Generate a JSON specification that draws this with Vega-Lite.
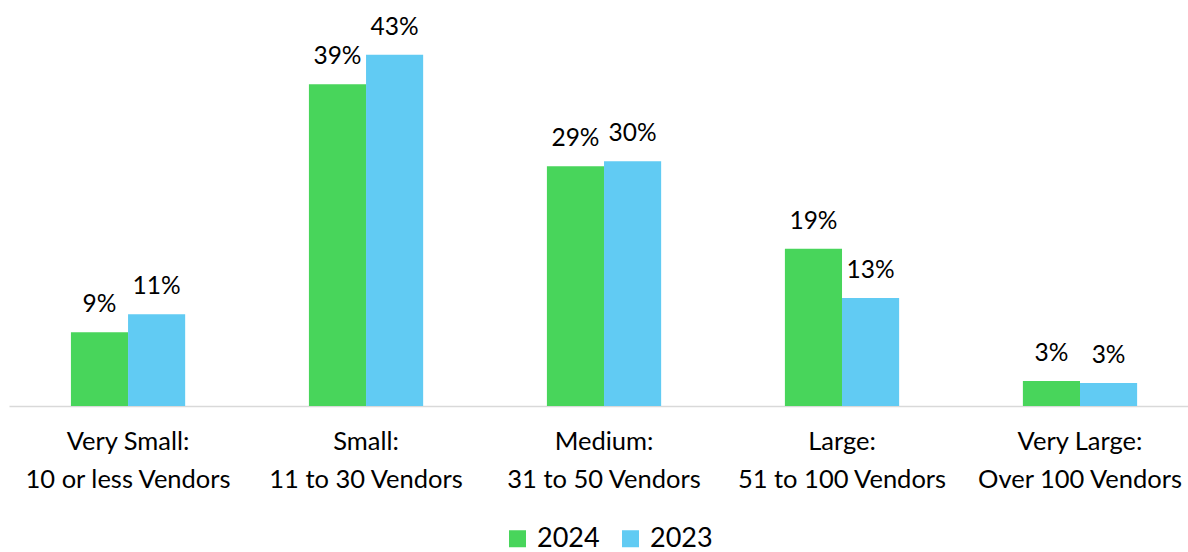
{
  "$schema": "https://vega.github.io/schema/vega-lite/v6.json",
  "width": 1179,
  "height": 406,
  "autosize": "none",
  "padding": {"left": 9, "top": 0, "right": 0, "bottom": 146},
  "background": "white",
  "config": {
    "view": {"stroke": null},
    "font": "Lato",
    "text": {"font": "Lato"}
  },
  "data": {
    "values": [
      {"cat": "Very Small:|10 or less Vendors", "year": "2024", "value": 9.0, "label": "9%"},
      {"cat": "Very Small:|10 or less Vendors", "year": "2023", "value": 11.2, "label": "11%"},
      {"cat": "Small:|11 to 30 Vendors", "year": "2024", "value": 39.3, "label": "39%"},
      {"cat": "Small:|11 to 30 Vendors", "year": "2023", "value": 42.9, "label": "43%"},
      {"cat": "Medium:|31 to 50 Vendors", "year": "2024", "value": 29.3, "label": "29%"},
      {"cat": "Medium:|31 to 50 Vendors", "year": "2023", "value": 29.9, "label": "30%"},
      {"cat": "Large:|51 to 100 Vendors", "year": "2024", "value": 19.2, "label": "19%"},
      {"cat": "Large:|51 to 100 Vendors", "year": "2023", "value": 13.2, "label": "13%"},
      {"cat": "Very Large:|Over 100 Vendors", "year": "2024", "value": 3.05, "label": "3%"},
      {"cat": "Very Large:|Over 100 Vendors", "year": "2023", "value": 2.8, "label": "3%"}
    ]
  },
  "encoding": {
    "x": {
      "field": "cat",
      "type": "nominal",
      "sort": null,
      "scale": {"paddingInner": 0.52, "paddingOuter": 0.237, "align": 0.549},
      "axis": {
        "title": null,
        "labelAngle": 0,
        "labelExpr": "split(datum.label, '|')",
        "labelFont": "Lato",
        "labelFontSize": 25.5,
        "labelColor": "#000000",
        "labelLineHeight": 38,
        "labelPadding": 23,
        "ticks": false,
        "domainColor": "#d9d9d9",
        "domainWidth": 1.5,
        "labelLimit": 300
      }
    },
    "xOffset": {"field": "year", "type": "nominal", "sort": ["2024", "2023"]},
    "y": {
      "field": "value",
      "type": "quantitative",
      "scale": {"domain": [0, 49.6], "nice": false},
      "axis": null
    }
  },
  "layer": [
    {
      "mark": {"type": "bar"},
      "encoding": {
        "color": {
          "field": "year",
          "type": "nominal",
          "sort": ["2024", "2023"],
          "scale": {"domain": ["2024", "2023"], "range": ["#48D55B", "#61CBF3"]},
          "legend": {
            "title": null,
            "orient": "none",
            "legendX": 495,
            "legendY": 525,
            "direction": "horizontal",
            "symbolType": "square",
            "symbolSize": 289,
            "symbolStrokeWidth": 0,
            "labelFont": "Lato",
            "labelFontSize": 27,
            "labelColor": "#000000",
            "labelOffset": 6,
            "columnPadding": 17
          }
        }
      }
    },
    {
      "mark": {"type": "text", "baseline": "alphabetic", "dy": -20, "fontSize": 24.5, "color": "#000000"},
      "encoding": {"text": {"field": "label"}}
    }
  ]
}
